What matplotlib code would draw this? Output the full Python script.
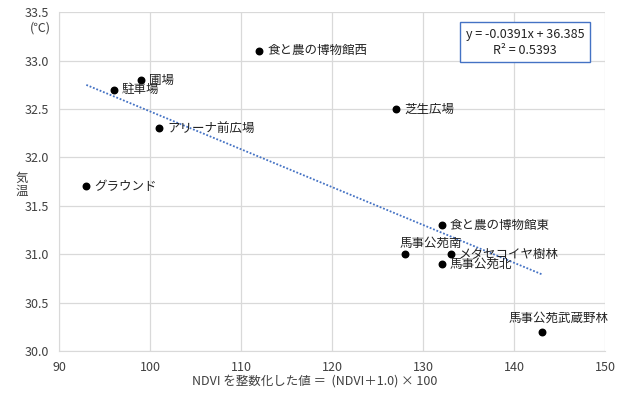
import matplotlib
matplotlib.use("Agg")
import matplotlib.pyplot as plt
import numpy as np

plt.rcParams['font.family'] = ['Noto Sans CJK JP', 'DejaVu Sans']

# data
names = ["グラウンド", "駐車場", "圃場", "アリーナ前広場", "食と農の博物館西", "芝生広場",
         "食と農の博物館東", "馬事公苑南", "メタセコイヤ樹林", "馬事公苑北", "馬事公苑武蔵野林"]
ndvi = [93, 96, 99, 101, 112, 127, 132, 128, 133, 132, 143]
temp = [31.7, 32.7, 32.8, 32.3, 33.1, 32.5, 31.3, 31.0, 31.0, 30.9, 30.2]
slope = -0.0391
intercept = 36.385
r2 = 0.5393

# label placement (offset in points, ha, va)
offsets = {
    "馬事公苑南": (-4, 3, 'left', 'bottom'),
    "馬事公苑武蔵野林": (12, 5, 'center', 'bottom'),
}

fig = plt.figure(figsize=(6.31, 4.05), dpi=100)
ax = fig.add_axes([0.0935, 0.133, 0.866, 0.837])

ax.scatter(ndvi, temp, s=22, color='black', zorder=3)

xs = np.array([min(ndvi), max(ndvi)])
ax.plot(xs, slope * xs + intercept, linestyle=(0, (1, 1)), color='#4472C4', lw=1.3, zorder=2)

for n, x, y in zip(names, ndvi, temp):
    dx, dy, ha, va = offsets.get(n, (6, 0, 'left', 'center'))
    ax.annotate(n, (x, y), xytext=(dx, dy), textcoords='offset points',
                ha=ha, va=va, fontsize=9, color='#222222')

ax.set_xlim(90, 150)
ax.set_ylim(30.0, 33.5)
ax.set_xticks(np.arange(90, 151, 10))
ax.set_yticks(np.arange(30.0, 33.51, 0.5))
ax.set_yticklabels([f"{v:.1f}" for v in np.arange(30.0, 33.51, 0.5)])
ax.grid(True, color='#d9d9d9', lw=0.9)
ax.set_axisbelow(True)
for s in ['top', 'right']:
    ax.spines[s].set_visible(False)
for s in ['left', 'bottom']:
    ax.spines[s].set_color('#d9d9d9')
ax.tick_params(length=0, labelsize=9, colors='#404040', pad=7)

ax.text(0.853, 0.911, f"y = {slope}x + {intercept}\nR² = {r2}", transform=ax.transAxes,
        ha='center', va='center', fontsize=9, color='#222222', linespacing=1.3,
        bbox=dict(boxstyle='square,pad=0.45', fc='white', ec='#4472C4', lw=1))

fig.text(40 / 631, 1 - 28 / 405, "(℃)", ha='center', va='center', fontsize=9, color='#404040')
fig.text(22 / 631, 1 - 185 / 405, "気\n温", ha='center', va='center', fontsize=9,
         color='#404040', linespacing=1.0)
fig.text(315 / 631, 1 - 381 / 405, "NDVI を整数化した値 ＝  (NDVI＋1.0) × 100", ha='center',
         va='center', fontsize=9, color='#404040')

fig.savefig("out.png", dpi=100)
